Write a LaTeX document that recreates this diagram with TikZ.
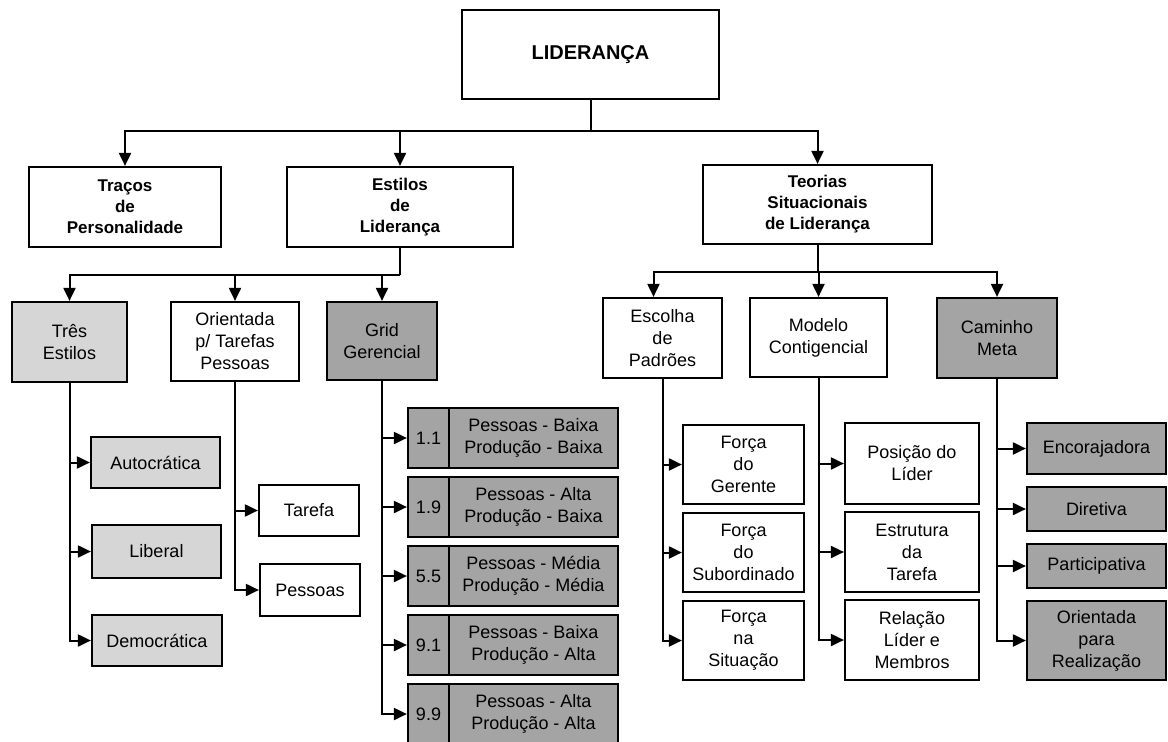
\documentclass[tikz,border=0pt]{standalone}
\usepackage{fontspec}
\setmainfont{Liberation Sans}
\usetikzlibrary{arrows.meta}
\definecolor{shadelight}{HTML}{D6D6D6}
\definecolor{shadedark}{HTML}{A4A4A4}
\begin{document}
\begin{tikzpicture}[x=1pt,y=-1pt,
  box/.style={draw, line width=2.2pt, align=center, inner sep=0pt,
    font=\fontsize{18}{22}\selectfont},
  head/.style={box, font=\fontsize{17}{21}\bfseries},
  light/.style={fill=shadelight},
  dark/.style={fill=shadedark},
  sz/.style 2 args={minimum width=#1pt, minimum height=#2pt},
  wire/.style={line width=2pt},
  arr/.style={wire, -{Triangle[length=13pt,width=12pt]}},
]
\fill[white] (0,0) rectangle (1168,742);
\useasboundingbox (0,0) rectangle (1168,742);

% root
\node[box, sz={257}{89}, font=\fontsize{20}{24}\bfseries] (lid) at (590.5,54.5) {LIDERANÇA};

% first level
\node[head, sz={192}{80}] (tra) at (125,207) {Traços\\de\\Personalidade};
\node[head, sz={226}{80}] (est) at (400,207) {Estilos\\de\\Liderança};
\node[head, sz={229}{79}] (teo) at (817.5,204.5) {Teorias\\Situacionais\\de Liderança};

% second level under Estilos
\node[box, light, sz={115}{80}] (tres) at (69.5,342) {Três\\Estilos};
\node[box, sz={128}{79}] (ori) at (235,341.5) {Orientada\\p/ Tarefas\\Pessoas};
\node[box, dark, sz={110}{78}] (grid) at (382,341) {Grid\\Gerencial};

% second level under Teorias
\node[box, sz={119}{80}] (esc) at (662.5,338) {Escolha\\de\\Padrões};
\node[box, sz={137}{79}] (mod) at (818.5,337.5) {Modelo\\Contigencial};
\node[box, dark, sz={120}{80}] (cam) at (997,338) {Caminho\\Meta};

% three styles
\node[box, light, sz={129}{51}] (aut) at (155.5,462.5) {Autocrática};
\node[box, light, sz={129}{53}] (lib) at (156.5,551.5) {Liberal};
\node[box, light, sz={130}{51}] (dem) at (157,640.5) {Democrática};

% task / people orientation
\node[box, sz={100}{51}] (tar) at (309,510.5) {Tarefa};
\node[box, sz={100}{52}] (pes) at (310,590) {Pessoas};

% managerial grid
\foreach \i/\y/\num/\txt in {
  1/438/1.1/{Pessoas - Baixa\\Produção - Baixa},
  2/507/1.9/{Pessoas - Alta\\Produção - Baixa},
  3/576/5.5/{Pessoas - Média\\Produção - Média},
  4/645/9.1/{Pessoas - Baixa\\Produção - Alta},
  5/714/9.9/{Pessoas - Alta\\Produção - Alta}} {
  \node[box, dark, sz={41}{60}] (gn\i) at (428.5,\y) {\num};
  \node[box, dark, sz={169}{60}] (gt\i) at (533.5,\y) {\txt};
}

% choice of patterns
\node[box, sz={121}{79}] (fg) at (743.5,464.5) {Força\\do\\Gerente};
\node[box, sz={121}{79}] (fs) at (743.5,552.5) {Força\\do\\Subordinado};
\node[box, sz={121}{79}] (fn) at (743.5,640.5) {Força\\na\\Situação};

% contingency model
\node[box, sz={134}{81}] (pl) at (912,463.5) {Posição do\\Líder};
\node[box, sz={134}{80}] (et) at (912,552) {Estrutura\\da\\Tarefa};
\node[box, sz={134}{80}] (rl) at (912,640) {Relação\\Líder e\\Membros};

% path-goal
\node[box, dark, sz={139}{51}] (enc) at (1096.5,448.5) {Encorajadora};
\node[box, dark, sz={139}{44}] (dir) at (1096.5,509) {Diretiva};
\node[box, dark, sz={139}{44}] (par) at (1096.5,566) {Participativa};
\node[box, dark, sz={139}{79}] (orr) at (1096.5,640.5) {Orientada\\para\\Realização};

% connectors: root to first level
\path (lid.south) ++(0,31) coordinate (j0);
\draw[wire] (lid.south) -- (j0);
\draw[arr] (j0) -| (tra.north);
\draw[arr] (j0) -| (est.north);
\draw[arr] (j0) -| (teo.north);

% Estilos to its branches
\path (est.south) ++(0,27) coordinate (j1);
\draw[wire] (est.south) -- (j1);
\draw[arr] (j1) -| (tres.north);
\draw[arr] (j1) -| (ori.north);
\draw[arr] (j1) -| (grid.north);

% Teorias to its branches
\path (teo.south) ++(0,27) coordinate (j2);
\draw[wire] (teo.south) -- (j2);
\draw[arr] (j2) -| ([xshift=-9pt]esc.north);
\draw[arr] (j2) -| (mod.north);
\draw[arr] (j2) -| (cam.north);

% leaves
\foreach \p/\c in {tres/aut, tres/lib, tres/dem,
                   ori/tar, ori/pes,
                   grid/gn1, grid/gn2, grid/gn3, grid/gn4, grid/gn5,
                   esc/fg, esc/fs, esc/fn,
                   mod/pl, mod/et, mod/rl,
                   cam/enc, cam/dir, cam/par, cam/orr}
  \draw[arr] (\p.south) |- (\c.west);
\end{tikzpicture}
\end{document}
